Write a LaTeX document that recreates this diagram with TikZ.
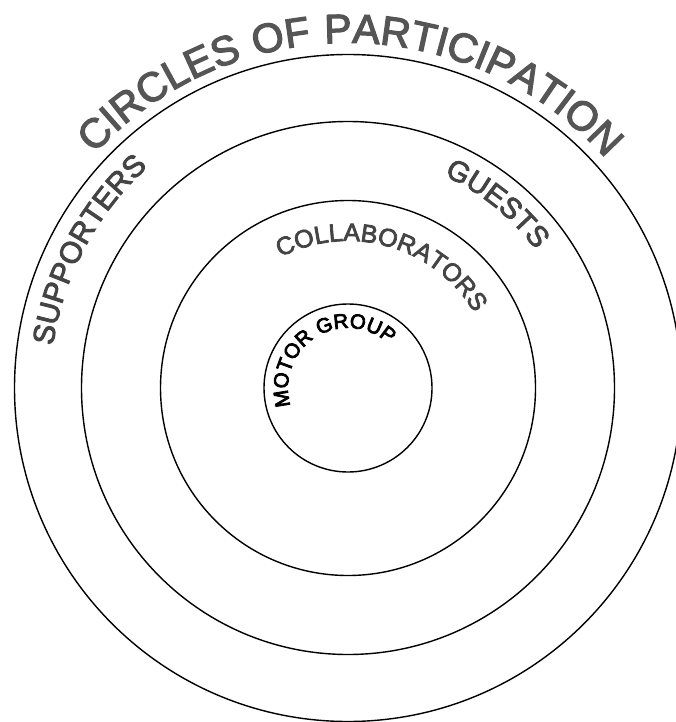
\documentclass[tikz,border=0pt]{standalone}
\usepackage{fontspec}
\setmainfont{Liberation Sans}
\newfontfamily\medfont[FakeBold=3,LetterSpace=5]{Liberation Sans}
\newfontfamily\boldishfont[FakeBold=4,LetterSpace=3]{Liberation Sans}
\usetikzlibrary{decorations.text}
\definecolor{titlegray}{HTML}{555555}
\definecolor{labelgray}{HTML}{444444}
\begin{document}
\begin{tikzpicture}[x=1pt,y=1pt,
  ring/.style={circle, draw=black, line width=1.4pt, inner sep=0pt, minimum size=#1},
  arclabel/.style={decorate, decoration={text along path, text align=center, text={#1}}}
]
\useasboundingbox (0,0) rectangle (676,-722);
\coordinate (c) at (348,-388);
\node[ring=667pt] (outer) at (c) {};
\node[ring=533pt] (guests) at (c) {};
\node[ring=375pt] (collab) at (c) {};
\node[ring=168pt] (motor) at (c) {};

\path[arclabel={|\medfont\fontsize{41}{41}\selectfont\color{titlegray}|CIRCLES OF PARTICIPATION}]
  (c) ++(160:345pt) arc[start angle=160, end angle=19, radius=345pt];
\path[arclabel={|\medfont\fontsize{30}{30}\selectfont\color{labelgray}|SUPPORTERS}]
  (c) ++(212:298pt) arc[start angle=212, end angle=92, radius=298pt];
\path[arclabel={|\medfont\fontsize{29}{29}\selectfont\color{labelgray}|GUESTS}]
  (c) ++(96:233pt) arc[start angle=96, end angle=6, radius=233pt];
\path[arclabel={|\medfont\fontsize{25}{25}\selectfont\color{labelgray}|COLLABORATORS}]
  (c) ++(164:147pt) arc[start angle=164, end angle=-16, radius=147pt];
\path[arclabel={|\boldishfont\fontsize{20.5}{20.5}\selectfont\color{black}|MOTOR GROUP}]
  (c) ++(222:60pt) arc[start angle=222, end angle=22, radius=60pt];
\end{tikzpicture}
\end{document}
